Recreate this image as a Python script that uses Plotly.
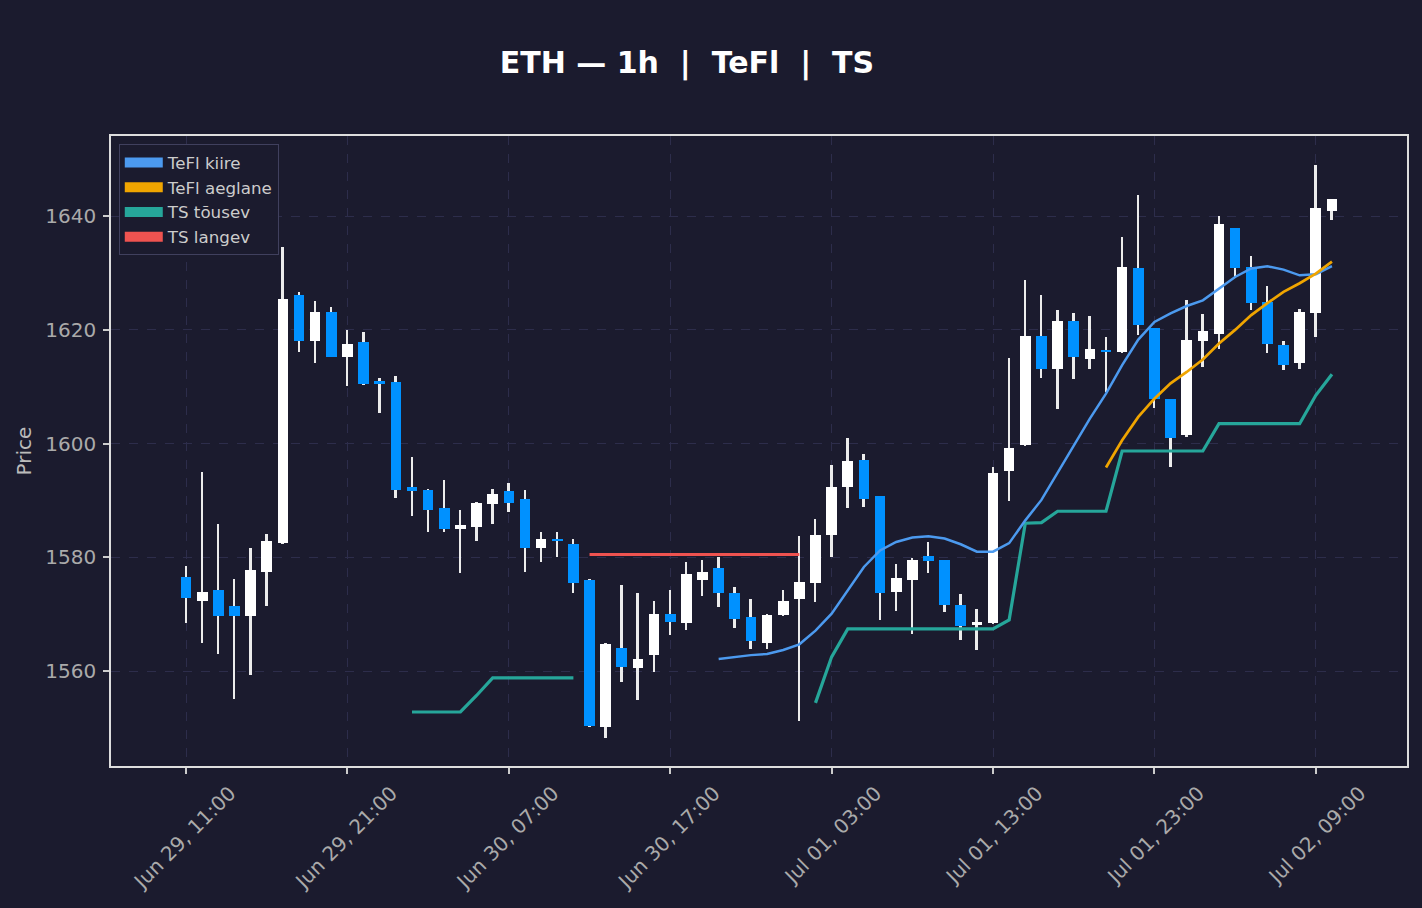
import pandas as pd
import plotly.graph_objects as go

# ---------------- data ----------------
times = pd.date_range("2023-06-29 11:00", periods=72, freq="h")

opens = [1576.5, 1572.4, 1574.2, 1571.4, 1569.7, 1577.5, 1582.6, 1626.1, 1618.0, 1623.2,
         1615.3, 1617.8, 1611.0, 1610.9, 1592.3, 1591.9, 1588.6, 1584.9, 1585.4, 1589.3,
         1591.6, 1590.2, 1581.6, 1583.2, 1582.3, 1576.1, 1550.2, 1564.0, 1560.6, 1562.8,
         1570.1, 1568.4, 1576.1, 1578.1, 1573.7, 1569.5, 1565.0, 1569.8, 1572.6, 1575.4,
         1583.9, 1592.3, 1597.2, 1590.7, 1573.9, 1576.1, 1580.3, 1579.5, 1571.7, 1568.1,
         1568.4, 1595.1, 1599.7, 1619.0, 1613.2, 1621.5, 1614.9, 1616.4, 1616.1, 1630.8,
         1620.3, 1607.8, 1601.6, 1618.1, 1619.2, 1637.9, 1631.0, 1624.9, 1617.3, 1614.1,
         1622.9, 1640.9]
highs = [1578.5, 1595.0, 1585.8, 1576.2, 1581.6, 1584.1, 1634.5, 1626.6, 1625.1, 1624.0,
         1620.0, 1619.6, 1611.5, 1611.9, 1597.7, 1592.0, 1593.6, 1588.3, 1589.7, 1592.1,
         1593.0, 1591.9, 1584.4, 1584.4, 1583.3, 1576.2, 1565.0, 1575.1, 1573.7, 1572.3,
         1574.2, 1579.1, 1579.6, 1580.1, 1574.7, 1572.6, 1570.0, 1574.2, 1583.7, 1586.8,
         1596.2, 1600.9, 1598.2, 1590.8, 1578.8, 1579.9, 1582.7, 1579.6, 1573.5, 1570.9,
         1595.8, 1615.0, 1628.7, 1626.1, 1623.5, 1622.9, 1622.4, 1618.7, 1636.3, 1643.7,
         1620.4, 1607.9, 1625.2, 1622.8, 1640.0, 1638.0, 1633.0, 1627.7, 1618.0, 1623.6,
         1649.0, 1643.1]
lows = [1568.5, 1565.0, 1563.0, 1555.0, 1559.3, 1571.5, 1582.4, 1616.1, 1614.2, 1615.2,
        1610.2, 1610.3, 1605.4, 1590.5, 1587.3, 1584.5, 1584.5, 1577.3, 1582.9, 1585.8,
        1588.0, 1577.5, 1579.2, 1580.1, 1573.7, 1550.1, 1548.3, 1558.1, 1554.9, 1559.9,
        1566.4, 1567.3, 1573.2, 1571.3, 1567.6, 1563.9, 1563.9, 1569.6, 1551.3, 1572.2,
        1580.1, 1588.6, 1588.9, 1569.0, 1570.6, 1566.6, 1577.2, 1570.3, 1565.5, 1563.7,
        1568.2, 1589.9, 1599.5, 1611.6, 1606.1, 1611.4, 1613.2, 1609.1, 1616.0, 1619.1,
        1606.2, 1595.8, 1601.2, 1613.4, 1616.6, 1629.3, 1623.5, 1615.9, 1613.0, 1613.2,
        1618.8, 1639.3]
closes = [1572.8, 1573.9, 1569.7, 1569.7, 1577.8, 1582.8, 1625.4, 1618.0, 1623.2, 1615.3,
          1617.6, 1610.5, 1610.4, 1591.9, 1591.7, 1588.4, 1585.0, 1585.6, 1589.5, 1591.2,
          1589.6, 1581.6, 1583.3, 1582.8, 1575.4, 1550.4, 1564.7, 1560.8, 1562.2, 1570.0,
          1568.7, 1577.0, 1577.4, 1573.8, 1569.2, 1565.2, 1569.9, 1572.4, 1575.6, 1584.0,
          1592.3, 1597.0, 1590.3, 1573.7, 1576.4, 1579.5, 1579.3, 1571.7, 1568.0, 1568.6,
          1594.8, 1599.3, 1619.0, 1613.2, 1621.5, 1615.2, 1616.7, 1616.2, 1631.0, 1620.8,
          1607.8, 1600.9, 1618.3, 1619.8, 1638.6, 1630.8, 1624.7, 1617.6, 1613.8, 1623.1,
          1641.5, 1643.1]

N = None
tefl_fast = [N] * 33 + [1562.1, 1562.5, 1562.8, 1563.0, 1563.7, 1564.7, 1567.1, 1570.1, 1574.2,
                        1578.3, 1581.2, 1582.7, 1583.5, 1583.7, 1583.3, 1582.3, 1581.0, 1581.0,
                        1582.5, 1586.5, 1590.1, 1594.8, 1599.7, 1604.4, 1608.8, 1613.8, 1618.3,
                        1621.4, 1622.9, 1624.2, 1625.2, 1627.3, 1629.3, 1630.8, 1631.2, 1630.6,
                        1629.6, 1629.8, 1631.2]
tefl_slow = [N] * 57 + [1595.8, 1600.6, 1604.7, 1607.9, 1610.6, 1612.6, 1614.8, 1617.6, 1620.0,
                        1622.6, 1624.7, 1626.7, 1628.2, 1629.9, 1632.0]
ts_up = ([N] * 14 + [1552.8, 1552.8, 1552.8, 1552.8, 1555.7, 1558.8, 1558.8, 1558.8, 1558.8,
                     1558.8, 1558.8]
         + [N] * 14
         + [1554.4, 1562.5, 1567.4, 1567.4, 1567.4, 1567.4, 1567.4, 1567.4, 1567.4, 1567.4,
            1567.4, 1567.4, 1569.0, 1586.0, 1586.1, 1588.1, 1588.1, 1588.1, 1588.1, 1598.7,
            1598.7, 1598.7, 1598.7, 1598.7, 1598.7, 1603.5, 1603.5, 1603.5, 1603.5, 1603.5,
            1603.5, 1608.5, 1612.2])
ts_down = [N] * 25 + [1580.5] * 14 + [N] * 33

# ---------------- styling ----------------
BG = "#1b1b2e"
UP = "#ffffff"
DOWN = "#0091ff"
WICK = "#ececec"
C_FAST = "#4c9aef"
C_SLOW = "#f0a500"
C_UP = "#26a69a"
C_DOWN = "#ef5350"
GRID = "#2d2d4b"
FONT = "DejaVu Sans"
HOUR = 3600 * 1000

body_base = [min(o, c) for o, c in zip(opens, closes)]
body_h = [abs(c - o) for o, c in zip(opens, closes)]
body_col = [UP if c >= o else DOWN for o, c in zip(opens, closes)]
wick_h = [h - l for h, l in zip(highs, lows)]

fig = go.Figure()

# wicks
fig.add_trace(go.Bar(x=times, y=wick_h, base=lows, width=0.12 * HOUR,
                     marker=dict(color=WICK, line=dict(width=0)), showlegend=False,
                     hoverinfo="skip"))
# bodies
fig.add_trace(go.Bar(x=times, y=body_h, base=body_base, width=0.66 * HOUR,
                     marker=dict(color=body_col, line=dict(width=0)), showlegend=False))

# indicator lines
fig.add_trace(go.Scatter(x=times, y=ts_up, mode="lines", line=dict(color=C_UP, width=3.2),
                         showlegend=False, connectgaps=False))
fig.add_trace(go.Scatter(x=times, y=ts_down, mode="lines", line=dict(color=C_DOWN, width=3.2),
                         showlegend=False, connectgaps=False))
fig.add_trace(go.Scatter(x=times, y=tefl_fast, mode="lines", line=dict(color=C_FAST, width=2.5),
                         showlegend=False))
fig.add_trace(go.Scatter(x=times, y=tefl_slow, mode="lines", line=dict(color=C_SLOW, width=2.7),
                         showlegend=False))

# legend entries (patch style)
for name, col in [("TeFl kiire", C_FAST), ("TeFl aeglane", C_SLOW),
                  ("TS tõusev", C_UP), ("TS langev", C_DOWN)]:
    fig.add_trace(go.Scatter(x=[None], y=[None], mode="lines", name=name,
                             line=dict(color=col, width=13)))

fig.update_layout(
    width=1422, height=908,
    paper_bgcolor=BG, plot_bgcolor=BG,
    barmode="overlay", bargap=0,
    margin=dict(l=111, r=15, t=136, b=142),
    font=dict(family=FONT, color="#aaaaaa", size=20),
    title=dict(text="<b>ETH — 1h \u00a0|\u00a0 TeFl \u00a0|\u00a0 TS</b>",
               font=dict(family=FONT, size=30, color="#ffffff"),
               x=0.4831, xanchor="center", xref="container",
               y=1 - 62 / 908, yanchor="middle", yref="container"),
    legend=dict(x=0.006, y=0.987, xanchor="left", yanchor="top",
                bgcolor=BG, bordercolor="#40405e", borderwidth=1,
                font=dict(family=FONT, size=16.7, color="#cccccc"),
                tracegroupgap=0, itemwidth=38),
    showlegend=True,
)

fig.update_xaxes(
    type="date",
    range=["2023-06-29 06:21", "2023-07-02 14:39"],
    tick0="2023-06-29 11:00", dtick=10 * HOUR,
    tickformat="%b %d, %H:%M", tickangle=-45,
    tickfont=dict(family=FONT, size=20, color="#aaaaaa"),
    ticklabelshift=44,
    ticks="outside", ticklen=6, tickwidth=1.5, tickcolor="#cccccc",
    showgrid=True, gridcolor=GRID, griddash="dash", gridwidth=1,
    showline=True, linecolor="#dddddd", linewidth=1.5, mirror=True,
    zeroline=False, rangeslider=dict(visible=False),
)
fig.update_yaxes(
    range=[1543.3, 1654.1],
    tickvals=[1560, 1580, 1600, 1620, 1640],
    tickfont=dict(family=FONT, size=20, color="#aaaaaa"),
    ticklabelstandoff=3,
    ticks="outside", ticklen=6, tickwidth=1.5, tickcolor="#cccccc",
    showgrid=True, gridcolor=GRID, griddash="dash", gridwidth=1,
    showline=True, linecolor="#dddddd", linewidth=1.5, mirror=True,
    zeroline=False,
    title=dict(text="Price", font=dict(family=FONT, size=20, color="#bbbbbb"), standoff=8),
)

fig.write_html("out.html")
